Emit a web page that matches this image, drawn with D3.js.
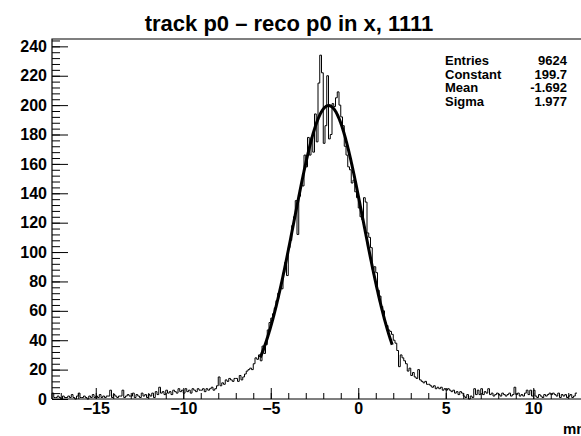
<!doctype html>
<meta charset="utf-8">
<script src="https://d3js.org/d3.v7.min.js"></script>
<style>
body { margin: 0; background: #fff; }
text { font-family: "Liberation Sans", Arial, sans-serif; font-weight: bold; fill: #000; }
</style>
<body>
<script>

// histogram: 0.1 mm bins starting at -17.5 mm
var binStart = -17.5, binWidth = 0.1;

// bins -17.5 .. -6.0
var tailLeft = [
  4,1,1,2,1,0,2,1,1,2,   1,3,1,0,2,4,1,1,2,1,   0,2,1,3,1,
  2,1,3,1,2,1,2,2,6,1,   3,2,1,2,2,6,1,2,3,2,   2,4,1,3,2,1,4,2,3,1,
  3,2,4,1,5,3,8,4,5,3,   6,4,5,3,6,5,4,7,5,6,   4,7,5,6,4,7,6,5,7,6,
  6,7,5,7,6,7,8,6,7,9,   15,9,11,10,13,12,14,13,12,14,
  14,12,16,13,15,17,19,20,21,20
];
// bins -6.0 .. 3.0
var peak = [
  24,28,27,30,26,36,31,37,47,52,
  55,58,62,67,72,76,75,86,93,84,
  103,108,118,124,135,112,138,146,145,166,
  158,178,166,178,168,194,175,215,234,222,
  174,186,220,177,180,201,199,205,209,200,
  192,186,172,166,158,156,147,149,141,137,
  130,124,122,137,134,113,110,103,88,90,
  86,74,70,63,60,52,50,47,46,44,
  40,38,33,22,30,28,26,24,19,21
];
// bins 3.0 .. 12.5
var tailRight = [
  16,18,15,14,20,13,12,11,12,10,
  10,9,8,9,7,8,7,8,6,7,
  6,7,6,5,6,4,5,3,5,4,
  2,1,3,0,2,1,7,3,6,3,
  7,3,5,4,7,3,4,2,3,4,
  3,2,4,3,2,3,4,2,3,8,
  3,4,2,3,2,4,6,3,6,2,
  6,2,1,3,2,1,3,2,3,4,
  3,4,3,2,4,1,3,2,3,1,
  2,3,1,2,4
];

var statNames = ["Entries", "Constant", "Mean", "Sigma"];
var statValues = ["9624", "199.7", "-1.692", "1.977"];

// gaussian fit
var fitConst = 199.7, fitMean = -1.692, fitSigma = 1.977;
var fitRange = [-5.6, 1.95];

var xTicks = [-15, -10, -5, 0, 5, 10];
var yTicks = [0, 20, 40, 60, 80, 100, 120, 140, 160, 180, 200, 220, 240];

var counts = tailLeft.concat(peak, tailRight);

var W = 581, H = 436;
var frameL = 52, frameT = 39, frameB = 399;

var x = d3.scaleLinear().domain([-17.5, 0]).range([frameL, frameL + 17.5 * 17.5]);
var y = d3.scaleLinear().domain([0, 245]).range([frameB, frameT]);

var svg = d3.select("body").append("svg")
    .attr("width", W)
    .attr("height", H);

// title
svg.append("text")
    .attr("x", 289)
    .attr("y", 31)
    .attr("text-anchor", "middle")
    .style("font-size", "22px")
    .text("track p0 \u2013 reco p0 in x, 1111");

// frame
svg.append("path")
    .attr("d", "M" + frameL + "," + frameB + "V" + frameT + "H" + (W + 5) +
               "M" + frameL + "," + frameB + "H" + (W + 5))
    .attr("fill", "none")
    .attr("stroke", "#000")
    .attr("stroke-width", 1.2);

// y axis
var yMinor = d3.range(0, 245, 4);
svg.append("g")
    .attr("transform", "translate(" + frameL + ",0)")
    .call(d3.axisLeft(y).tickValues(yMinor).tickSize(-8).tickFormat(""))
    .call(function(g) { g.select(".domain").remove(); });
var yAx = svg.append("g")
    .attr("transform", "translate(" + frameL + ",0)")
    .call(d3.axisLeft(y).tickValues(yTicks).tickSize(-16).tickPadding(5));
yAx.select(".domain").remove();
yAx.selectAll("text").style("font-size", "16px").style("font-family", null);

// x axis
var xMinor = d3.range(-17, 16, 1);
svg.append("g")
    .attr("transform", "translate(0," + frameB + ")")
    .call(d3.axisBottom(x).tickValues(xMinor).tickSize(-6).tickFormat(""))
    .call(function(g) { g.select(".domain").remove(); });
var xAx = svg.append("g")
    .attr("transform", "translate(0," + frameB + ")")
    .call(d3.axisBottom(x).tickValues(xTicks).tickSize(-11).tickPadding(4)
      .tickFormat(function(d) { return d < 0 ? "\u2212" + (-d) : d; }));
xAx.select(".domain").remove();
xAx.selectAll("text").style("font-size", "16px").style("font-family", null)
    .attr("y", 4);
svg.selectAll(".tick line").attr("stroke", "#000");

svg.append("text")
    .attr("x", 563)
    .attr("y", 434)
    .style("font-size", "15px")
    .text("mm");

// histogram outline
var pts = [[x(binStart), y(0)]];
counts.forEach(function(c, i) {
  var x0 = binStart + i * binWidth;
  pts.push([x(x0), y(c)]);
  pts.push([x(x0 + binWidth), y(c)]);
});
svg.append("path")
    .attr("d", d3.line()(pts))
    .attr("fill", "none")
    .attr("stroke", "#000")
    .attr("stroke-width", 1);

// fit curve
var fitPts = d3.range(fitRange[0], fitRange[1] + 0.001, 0.02).map(function(v) {
  var z = (v - fitMean) / fitSigma;
  return [x(v), y(fitConst * Math.exp(-0.5 * z * z))];
});
svg.append("path")
    .attr("d", d3.line().curve(d3.curveBasis)(fitPts))
    .attr("fill", "none")
    .attr("stroke", "#000")
    .attr("stroke-width", 3);

// stats box
var stats = svg.append("g").style("font-size", "13px");
statNames.forEach(function(n, i) {
  stats.append("text").attr("x", 445).attr("y", 65 + i * 13.7).text(n);
  stats.append("text").attr("x", 567).attr("y", 65 + i * 13.7)
      .attr("text-anchor", "end").text(statValues[i]);
});

</script>
</body>
</html>
